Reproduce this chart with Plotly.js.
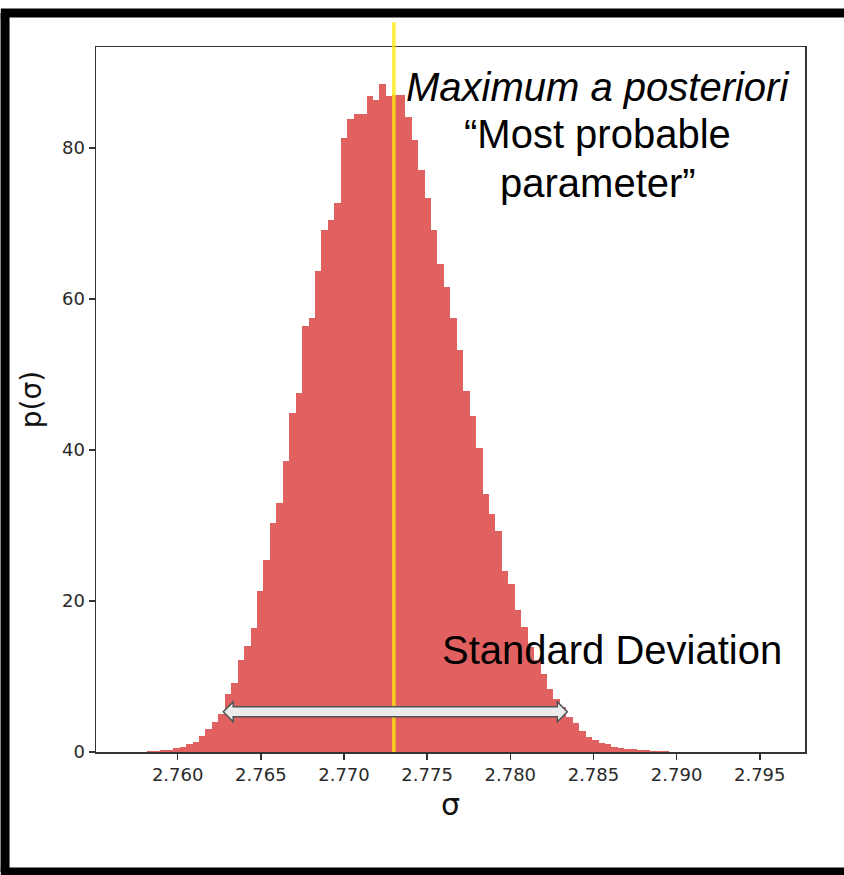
<!DOCTYPE html>
<html>
<head>
<meta charset="utf-8">
<script src="https://cdn.plot.ly/plotly-3.0.1.min.js"></script>
<style>html,body{margin:0;padding:0;background:#fff;overflow:hidden;}#chart{width:844px;height:875px;}</style>
</head>
<body>
<div id="chart"></div>
<script>
// Histogram of posterior samples for sigma (density), 100 equal bins
const binStart = 2.75702;
const binWidth = 0.0003875;
const density = [
  0.02, 0.02, 0.03, 0.10, 0.15, 0.20, 0.30, 0.50, 0.70, 1.10,
  1.30, 2.15, 3.00, 4.00, 5.00, 7.75, 9.10, 12.2, 14.0, 16.4,
  21.3, 25.4, 30.3, 33.0, 38.6, 44.9, 47.6, 56.4, 57.5, 63.7,
  69.1, 70.5, 72.7, 81.4, 83.8, 84.5, 84.5, 86.9, 86.4, 88.5,
  86.9, 87.0, 87.0, 84.1, 81.1, 77.1, 73.4, 69.2, 64.6, 61.6,
  57.5, 53.2, 47.8, 44.5, 40.3, 34.2, 31.5, 29.3, 24.0, 22.3,
  18.8, 16.6, 13.9, 12.2, 10.4, 8.40, 7.00, 6.00, 4.70, 3.80,
  2.80, 2.00, 1.60, 1.20, 1.00, 0.70, 0.50, 0.45, 0.40, 0.25,
  0.20, 0.15, 0.12, 0.10, 0.05, 0.03, 0.02, 0.02, 0.01, 0.01,
  0.01, 0.00, 0.01, 0.00, 0.00, 0.00, 0.00, 0.00, 0.00, 0.01
];
const xTicks = [2.760, 2.765, 2.770, 2.775, 2.780, 2.785, 2.790, 2.795];
const xTickLabels = ["2.760", "2.765", "2.770", "2.775", "2.780", "2.785", "2.790", "2.795"];
const yTicks = [0, 20, 40, 60, 80];
const yTickLabels = ["0", "20", "40", "60", "80"];
const mapValue = 2.773;           // maximum a posteriori
const sdArrowLeft = 2.76274;      // standard deviation arrow ends
const sdArrowRight = 2.78343;
const sdArrowLevel = 5.32;
const mapLines = ["<i>Maximum a posteriori</i>", "“Most probable", "parameter”"];
const sdLabel = "Standard Deviation";

const binCenters = density.map((_, i) => binStart + (i + 0.5) * binWidth);

// double-headed block arrow path in data coordinates
const headLen = 0.0006, shaftHalf = 0.66, headHalf = 1.32;
const xl = sdArrowLeft, xr = sdArrowRight, yc = sdArrowLevel;
const arrowPath = `M ${xl},${yc} L ${xl+headLen},${yc+headHalf} L ${xl+headLen},${yc+shaftHalf} ` +
  `L ${xr-headLen},${yc+shaftHalf} L ${xr-headLen},${yc+headHalf} L ${xr},${yc} ` +
  `L ${xr-headLen},${yc-headHalf} L ${xr-headLen},${yc-shaftHalf} L ${xl+headLen},${yc-shaftHalf} ` +
  `L ${xl+headLen},${yc-headHalf} Z`;

const tickFont = {family: "DejaVu Sans, sans-serif", size: 18, color: "#2a2a2a"};
const bigFont = {family: "Liberation Sans, Arial, sans-serif", size: 40, color: "#000"};
const mapLineY = [0.9433, 0.8766, 0.8071];

const data = [{
  type: "bar",
  x: binCenters,
  y: density,
  width: binWidth,
  marker: {color: "#e0615f", line: {width: 0}},
  hoverinfo: "x+y"
}];

const annotations = mapLines.map((t, i) => ({
  xref: "paper", yref: "paper", x: 0.708, y: mapLineY[i], xanchor: "center", yanchor: "middle",
  text: t, showarrow: false, font: bigFont
}));
annotations.push({xref: "paper", yref: "paper", x: 0.4852, y: 0.1447, xanchor: "left", yanchor: "middle",
  text: sdLabel, showarrow: false, font: bigFont});

// outer frame (top, left, bottom) in paper coordinates
const frameL = -0.1283, frameR = 1.1, frameB = -0.1702, frameT = 1.0482;
const frameLine = {color: "#000", width: 9};

const layout = {
  width: 844, height: 875,
  margin: {l: 96, r: 39, t: 47, b: 123},
  paper_bgcolor: "#fff", plot_bgcolor: "#fff",
  showlegend: false,
  bargap: 0,
  xaxis: {
    range: [2.75509, 2.79772],
    tickvals: xTicks, ticktext: xTickLabels,
    ticks: "outside", ticklen: 6, tickwidth: 1.5, tickcolor: "#333",
    showline: true, linecolor: "#333", linewidth: 1.5, mirror: true,
    showgrid: false, zeroline: false,
    tickfont: tickFont,
    title: {text: "σ", font: {family: "DejaVu Sans, sans-serif", size: 30, color: "#111"}, standoff: 10}
  },
  yaxis: {
    range: [0, 93.4],
    tickvals: yTicks, ticktext: yTickLabels,
    ticks: "outside", ticklen: 6, tickwidth: 1.5, tickcolor: "#333",
    showline: true, linecolor: "#333", linewidth: 1.5, mirror: true,
    showgrid: false, zeroline: false,
    tickfont: tickFont,
    title: {text: "p(σ)", font: {family: "DejaVu Sans, sans-serif", size: 28, color: "#111"}, standoff: 12}
  },
  shapes: [
    {type: "line", xref: "x", yref: "paper", x0: mapValue, x1: mapValue, y0: 0, y1: 1.035,
     line: {color: "rgba(255,232,10,0.8)", width: 3.5}},
    {type: "path", xref: "x", yref: "y", path: arrowPath,
     fillcolor: "#ececec", line: {color: "#4d5656", width: 1.5}},
    {type: "line", xref: "paper", yref: "paper", x0: frameL - 0.006, x1: frameR, y0: frameT, y1: frameT, line: frameLine},
    {type: "line", xref: "paper", yref: "paper", x0: frameL, x1: frameL, y0: frameB, y1: frameT, line: frameLine},
    {type: "line", xref: "paper", yref: "paper", x0: frameL - 0.006, x1: frameR, y0: frameB, y1: frameB, line: frameLine}
  ],
  annotations: annotations
};

Plotly.newPlot("chart", data, layout, {displayModeBar: false, staticPlot: true});
</script>
</body>
</html>
